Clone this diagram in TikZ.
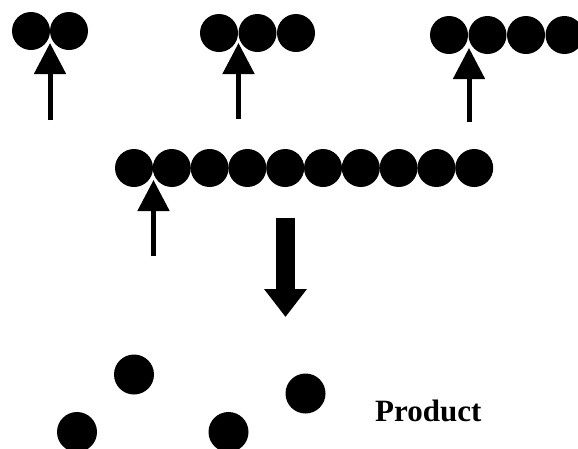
\documentclass[tikz,border=0pt]{standalone}
\usepackage{fontspec}
\setmainfont{Liberation Serif}
\usetikzlibrary{arrows.meta}

\begin{document}
\begin{tikzpicture}[x=1pt,y=-1pt,
  bead/.style={circle,fill=black,inner sep=0pt,minimum size=38pt},
  feed/.style={line width=5pt,-{Triangle[width=31pt,length=31pt]}},
  yields/.style={line width=19pt,-{Triangle[width=41pt,length=28pt]}}]
\useasboundingbox (0,0) rectangle (578,448);
\clip (0,0) rectangle (578,448);
% short chains on top, each fed at its first junction
\foreach \i in {1,2} \node[bead] (d\i) at ({31+38*(\i-1)},31) {};
\foreach \i in {1,2,3} \node[bead] (t\i) at ({219+38.5*(\i-1)},33) {};
\foreach \i in {1,...,4} \node[bead] (q\i) at ({449+38.5*(\i-1)},35) {};
\coordinate (d-tail) at (50,120); \coordinate (d-tip) at (50,43);
\coordinate (t-tail) at (238.5,119); \coordinate (t-tip) at (238.5,43);
\coordinate (q-tail) at (469,122); \coordinate (q-tip) at (469,48);
\draw[feed] (d-tail) -- (d-tip);
\draw[feed] (t-tail) -- (t-tip);
\draw[feed] (q-tail) -- (q-tip);
% long chain
\foreach \i in {1,...,10} \node[bead] (c\i) at ({134+37.8*(\i-1)},168) {};
\coordinate (c-tail) at (153.5,256); \coordinate (c-tip) at (153.5,180);
\draw[feed] (c-tail) -- (c-tip);
% breaks up into product
\coordinate (c-out) at (285.5,218); \coordinate (p-in) at (285.5,317);
\draw[yields] (c-out) -- (p-in);
\node[bead,minimum size=40pt] (p1) at (134,374.5) {};
\node[bead,minimum size=40pt] (p2) at (305.5,393.5) {};
\node[bead,minimum size=40pt] (p3) at (77,432) {};
\node[bead,minimum size=40pt] (p4) at (228.5,432) {};
\node[font=\fontsize{31}{37}\selectfont\bfseries,anchor=base west,inner sep=0pt] (prod) at (375,421) {Product};
\end{tikzpicture}
\end{document}
